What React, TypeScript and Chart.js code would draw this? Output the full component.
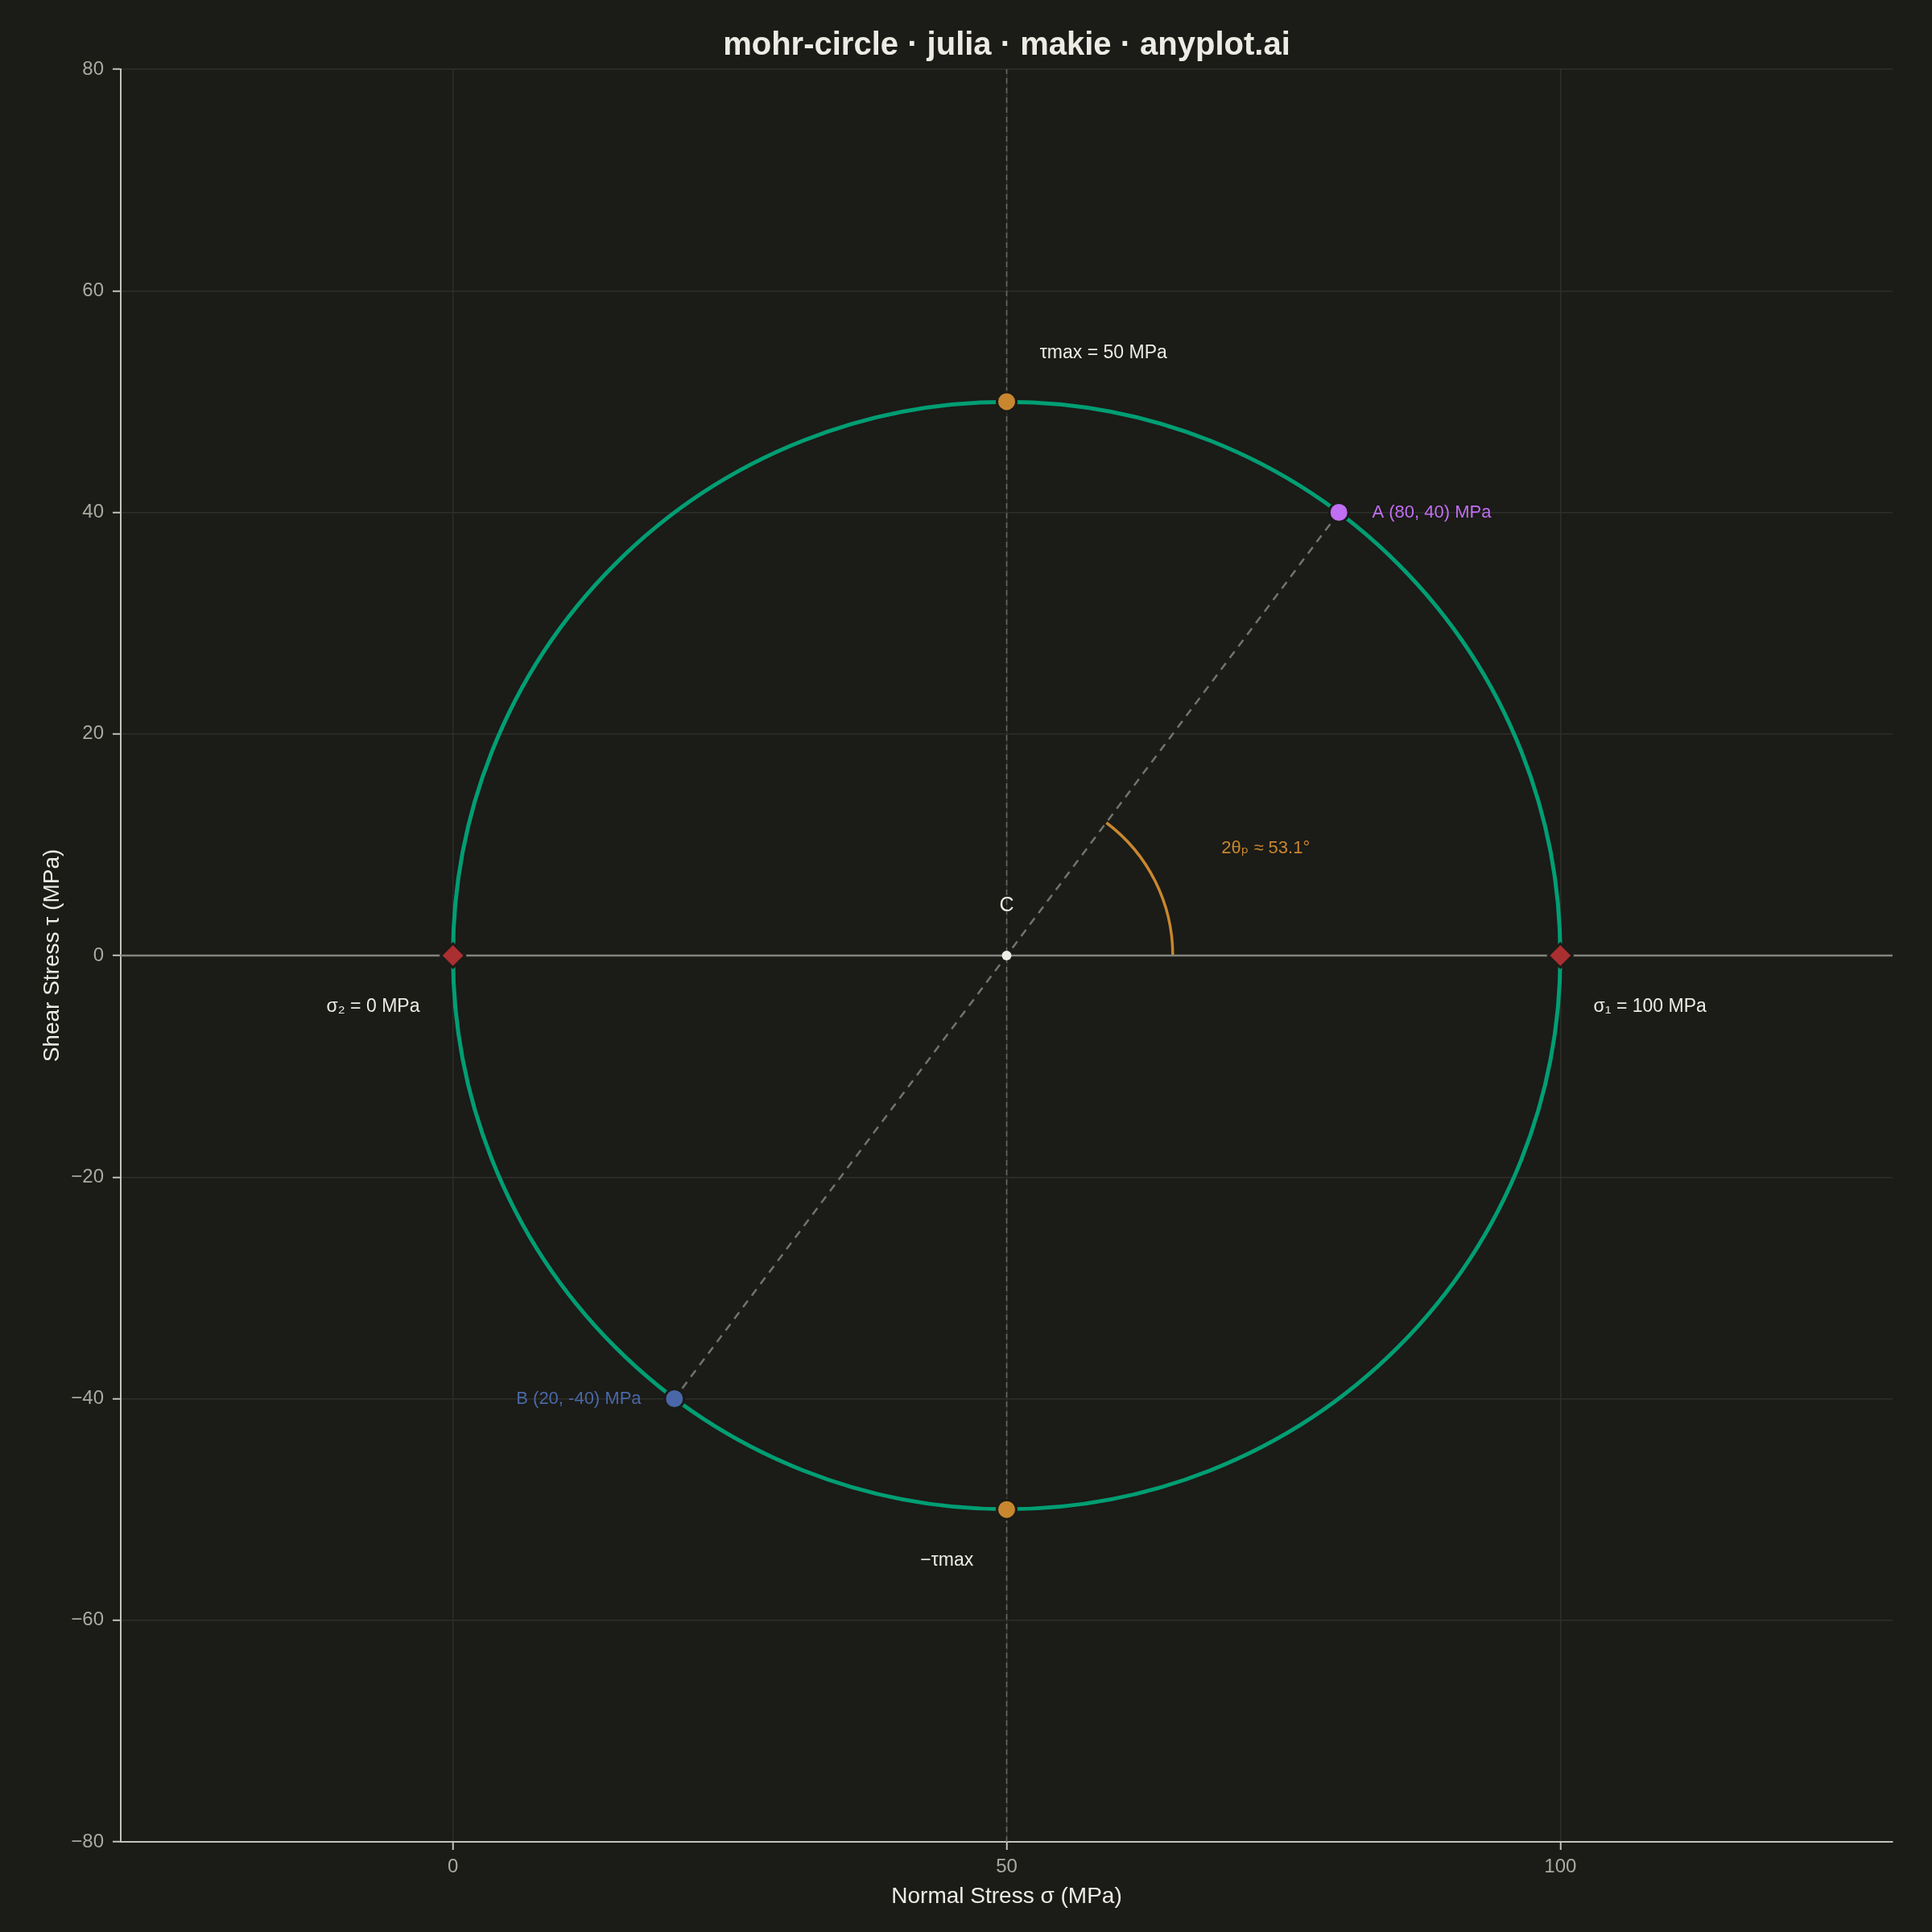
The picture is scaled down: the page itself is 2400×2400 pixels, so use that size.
import React, { useEffect, useRef } from "react";
import { Chart, registerables } from "chart.js";

Chart.register(...registerables);

// ---- data ----
const TITLE = "mohr-circle · julia · makie · anyplot.ai";
const X_TITLE = "Normal Stress σ (MPa)";
const Y_TITLE = "Shear Stress τ (MPa)";

const X_RANGE = [-30, 130];
const Y_RANGE = [-80, 80];
const X_TICKS = [0, 50, 100];
const Y_TICKS = [-80, -60, -40, -20, 0, 20, 40, 60, 80];

const POINT_A = [{ x: 80, y: 40 }];
const POINT_B = [{ x: 20, y: -40 }];
const CENTER = [{ x: 50, y: 0 }];
const RADIUS = 50;
const PRINCIPAL = [
  { x: 0, y: 0 },
  { x: 100, y: 0 },
];
const TAU_MAX = [
  { x: 50, y: 50 },
  { x: 50, y: -50 },
];
const ARC_RADIUS = 15;
const TWO_THETA_P_DEG = 53.1;

const LABELS = [
  { key: "white", text: "τmax = 50 MPa", x: 53, y: 54.4, align: "left" },
  { key: "white", text: "−τmax", x: 47, y: -54.6, align: "right" },
  { key: "a", text: "A (80, 40) MPa", x: 83, y: 40, align: "left" },
  { key: "b", text: "B (20, -40) MPa", x: 17, y: -40, align: "right" },
  { key: "white", text: "σ₂ = 0 MPa", x: -3, y: -4.6, align: "right" },
  { key: "white", text: "σ₁ = 100 MPa", x: 103, y: -4.6, align: "left" },
  { key: "c", text: "C", x: 50, y: 4.5, align: "center" },
  { key: "angle", text: "2θₚ ≈ 53.1°", x: 69.4, y: 9.7, align: "left" },
];

// ---- styles ----
const FONT = '"Liberation Sans", Arial, "DejaVu Sans", sans-serif';
const BG = "#1b1b17";
const GRID = "#2e2e2a";
const AXIS = "#c4c4bc";
const TICK_TEXT = "#aaaaa2";
const TEXT = "#ecebe4";
const GREEN = "#009e73";
const ORANGE = "#c8872f";
const PURPLE = "#c06ef2";
const BLUE = "#4a68a8";
const RED = "#aa2f31";
const ZERO = "#85857f";
const DASH = "#73736e";
const VDASH = "#6a6a65";

const LABEL_STYLE: Record<string, { color: string; size: number }> = {
  white: { color: TEXT, size: 23 },
  a: { color: PURPLE, size: 22 },
  b: { color: BLUE, size: 22 },
  c: { color: TEXT, size: 25 },
  angle: { color: ORANGE, size: 22 },
};

const fmt = (v: number) => (v < 0 ? "−" + Math.abs(v) : String(v));

const bgPlugin = {
  id: "bg",
  beforeDraw(chart: any) {
    const ctx = chart.ctx;
    ctx.save();
    ctx.fillStyle = BG;
    ctx.fillRect(0, 0, chart.width, chart.height);
    ctx.restore();
  },
};

const geometryPlugin = {
  id: "geometry",
  beforeDatasetsDraw(chart: any) {
    const { ctx, chartArea } = chart;
    const xs = chart.scales.x;
    const ys = chart.scales.y;
    const c = CENTER[0];
    const cx = xs.getPixelForValue(c.x);
    const cy = ys.getPixelForValue(c.y);
    const r = xs.getPixelForValue(c.x + RADIUS) - cx;
    const ra = xs.getPixelForValue(c.x + ARC_RADIUS) - cx;
    ctx.save();
    ctx.beginPath();
    ctx.rect(chartArea.left, chartArea.top, chartArea.right - chartArea.left, chartArea.bottom - chartArea.top);
    ctx.clip();
    // Mohr circle
    ctx.beginPath();
    ctx.arc(cx, cy, r, 0, Math.PI * 2);
    ctx.strokeStyle = GREEN;
    ctx.lineWidth = 5;
    ctx.stroke();
    // 2θp arc
    const ang = (TWO_THETA_P_DEG * Math.PI) / 180;
    ctx.beginPath();
    ctx.arc(cx, cy, ra, -ang, 0);
    ctx.strokeStyle = ORANGE;
    ctx.lineWidth = 3.5;
    ctx.stroke();
    ctx.restore();
  },
  afterDraw(chart: any) {
    const { ctx, chartArea } = chart;
    const xs = chart.scales.x;
    const ys = chart.scales.y;
    ctx.save();
    ctx.textBaseline = "middle";
    for (const l of LABELS) {
      const st = LABEL_STYLE[l.key];
      ctx.font = `${st.size}px ${FONT}`;
      ctx.fillStyle = st.color;
      ctx.textAlign = l.align as CanvasTextAlign;
      ctx.fillText(l.text, xs.getPixelForValue(l.x), ys.getPixelForValue(l.y));
    }
    ctx.font = `bold 40px ${FONT}`;
    ctx.fillStyle = TEXT;
    ctx.textAlign = "center";
    ctx.fillText(TITLE, (chartArea.left + chartArea.right) / 2, 57);
    ctx.restore();
  },
};

export default function App() {
  const ref = useRef<HTMLCanvasElement | null>(null);
  useEffect(() => {
    if (!ref.current) return;
    const marker = (data: any[], color: string, radius: number, order: number, style = "circle", border = 3) => ({
      data,
      showLine: false,
      pointStyle: style,
      pointRadius: radius,
      pointHoverRadius: radius,
      pointBackgroundColor: color,
      pointBorderColor: BG,
      pointBorderWidth: border,
      order,
    });
    const line = (data: any[], color: string, width: number, dash: number[], order: number) => ({
      data,
      showLine: true,
      borderColor: color,
      borderWidth: width,
      borderDash: dash,
      pointRadius: 0,
      pointHoverRadius: 0,
      fill: false,
      tension: 0,
      order,
    });
    const chart = new Chart(ref.current, {
      type: "scatter",
      data: {
        datasets: [
          marker(CENTER, TEXT, 6, 0, "circle", 0) as any,
          marker(POINT_A, PURPLE, 12, 1) as any,
          marker(POINT_B, BLUE, 12, 1) as any,
          marker(TAU_MAX, ORANGE, 12, 1) as any,
          marker(PRINCIPAL, RED, 15, 1, "rectRot") as any,
          line([...POINT_A, ...POINT_B], DASH, 2.5, [10, 8], 10) as any,
          line([{ x: CENTER[0].x, y: Y_RANGE[0] }, { x: CENTER[0].x, y: Y_RANGE[1] }], VDASH, 1.5, [7, 5], 11) as any,
          line([{ x: X_RANGE[0], y: 0 }, { x: X_RANGE[1], y: 0 }], ZERO, 2.5, [], 12) as any,
        ],
      },
      options: {
        responsive: false,
        maintainAspectRatio: false,
        devicePixelRatio: 1,
        animation: false,
        events: [],
        layout: { padding: { top: 86, right: 49, bottom: 0, left: 0 } },
        plugins: { legend: { display: false }, tooltip: { enabled: false }, title: { display: false } },
        scales: {
          x: {
            type: "linear",
            min: X_RANGE[0],
            max: X_RANGE[1],
            afterBuildTicks: (s: any) => {
              s.ticks = X_TICKS.map((v) => ({ value: v }));
            },
            afterFit: (s: any) => {
              s.height = 112;
            },
            ticks: {
              callback: (v: any) => fmt(Number(v)),
              color: TICK_TEXT,
              font: { family: FONT, size: 24 },
              padding: 7,
              maxRotation: 0,
            },
            grid: { color: GRID, lineWidth: 1.5, tickColor: AXIS, tickLength: 10, tickWidth: 2, drawTicks: true },
            border: { color: AXIS, width: 2 },
            title: {
              display: true,
              text: X_TITLE,
              color: TEXT,
              font: { family: FONT, size: 28 },
              padding: { top: 0, bottom: 27 },
            },
          },
          y: {
            type: "linear",
            min: Y_RANGE[0],
            max: Y_RANGE[1],
            afterBuildTicks: (s: any) => {
              s.ticks = Y_TICKS.map((v) => ({ value: v }));
            },
            afterFit: (s: any) => {
              s.width = 150;
            },
            ticks: {
              callback: (v: any) => fmt(Number(v)),
              color: TICK_TEXT,
              font: { family: FONT, size: 24 },
              padding: 11,
            },
            grid: { color: GRID, lineWidth: 1.5, tickColor: AXIS, tickLength: 10, tickWidth: 2, drawTicks: true },
            border: { color: AXIS, width: 2 },
            title: {
              display: true,
              text: Y_TITLE,
              color: TEXT,
              font: { family: FONT, size: 28 },
              padding: { top: 48, bottom: 0 },
            },
          },
        },
      } as any,
      plugins: [bgPlugin, geometryPlugin],
    });
    return () => chart.destroy();
  }, []);
  return (
    <div style={{ position: "fixed", left: 0, top: 0, width: 2400, height: 2400, background: BG }}>
      <canvas ref={ref} width={2400} height={2400} style={{ display: "block", width: 2400, height: 2400 }} />
    </div>
  );
}
